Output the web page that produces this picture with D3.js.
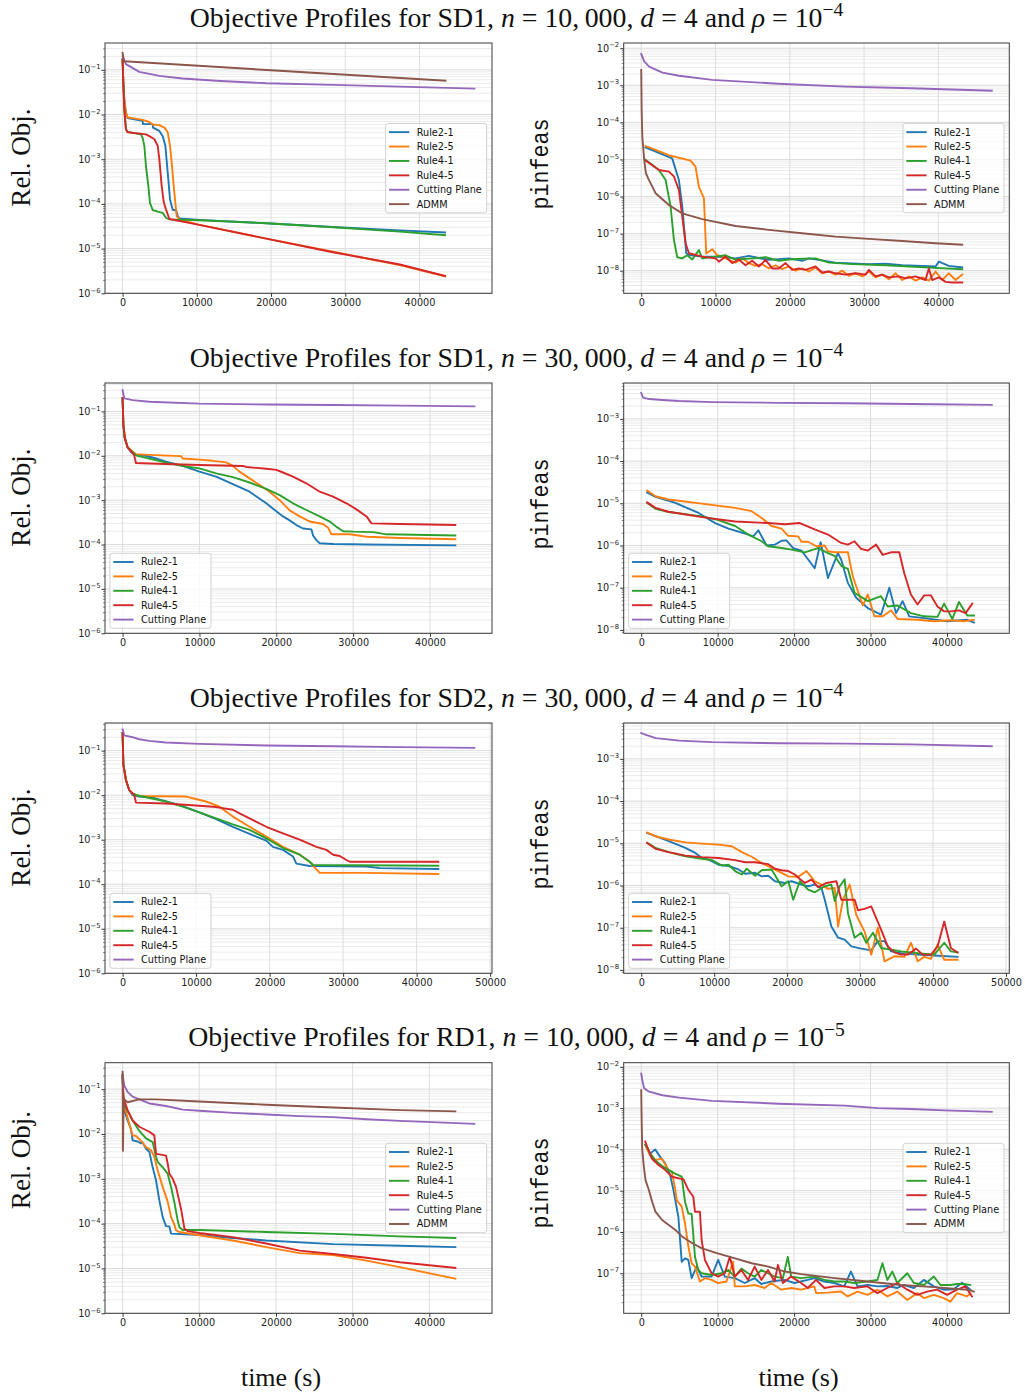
<!DOCTYPE html>
<html><head><meta charset="utf-8">
<script src="https://cdn.jsdelivr.net/npm/d3@7"></script>
<style>body{margin:0;background:#fff}</style>
</head><body>
<svg id="chart" width="1025" height="1393" xmlns="http://www.w3.org/2000/svg"></svg>
<script>
// ---------- labels ----------
const seriesNames = ["Rule2-1","Rule2-5","Rule4-1","Rule4-5","Cutting Plane","ADMM"];
const seriesColors = ["#1f77b4","#ff7f0e","#2ca02c","#d62728","#9467bd","#8c564b"];
const rowDatasets = ["SD1","SD1","SD2","RD1"];
const rowN = ["10,\u2009000","30,\u2009000","30,\u2009000","10,\u2009000"];
const rowD = ["4","4","4","4"];
const rowRhoExp = ["\u22124","\u22124","\u22124","\u22125"];
const yTitles = ["Rel. Obj.","pinfeas"];
const xTitle = "time (s)";

// ---------- data: [time (s), value] ----------
// SD1, n=10,000 : Rel. Obj.
const sd1a_obj_r21 = [[0,0.17],[100,0.05],[230,0.022],[450,0.011],[680,0.0083],[2700,0.0072],[2750,0.0061],[4050,0.0061],[4100,0.0051],[4950,0.0043],[5400,0.0033],[5760,0.002],[6080,5e-4],[6390,1.26e-4],[6750,7.4e-5],[7200,7.2e-5],[7430,5.4e-5],[7650,4.7e-5],[10350,4.4e-5],[19350,3.7e-5],[28350,3.05e-5],[37350,2.56e-5],[43450,2.3e-5]];
const sd1a_obj_r25 = [[0,0.17],[100,0.05],[230,0.022],[450,0.011],[680,0.0086],[1350,0.0083],[2700,0.0076],[3600,0.0068],[4050,0.006],[4950,0.0058],[5630,0.0051],[6080,0.004],[6390,0.002],[6660,7e-4],[6890,2.5e-4],[7110,1.05e-4],[7290,5.3e-5],[7650,4.5e-5],[10350,3.4e-5],[19350,1.67e-5],[28350,8.5e-6],[37350,4.3e-6],[43450,2.4e-6]];
const sd1a_obj_r41 = [[0,0.17],[100,0.05],[230,0.013],[450,0.0047],[675,0.0041],[2480,0.0036],[2700,0.003],[2930,0.002],[3150,7e-4],[3470,2.5e-4],[3690,1.05e-4],[4050,7.3e-5],[4730,6.7e-5],[5400,6.3e-5],[5850,4.9e-5],[6300,4.5e-5],[10350,4.3e-5],[19350,3.7e-5],[28350,3.0e-5],[37350,2.4e-5],[43450,2.0e-5]];
const sd1a_obj_r45 = [[0,0.17],[100,0.05],[230,0.013],[450,0.0047],[675,0.004],[3150,0.0036],[3600,0.0033],[4280,0.0028],[4730,0.002],[4950,0.001],[5270,2.5e-4],[5540,1.1e-4],[5850,7.5e-5],[6300,4.6e-5],[10350,3.4e-5],[19350,1.67e-5],[28350,8.3e-6],[37350,4.4e-6],[43450,2.44e-6]];
const sd1a_obj_cp = [[0,0.2],[450,0.134],[2250,0.09],[4950,0.073],[8100,0.064],[12600,0.057],[19350,0.05],[28350,0.046],[37350,0.042],[47400,0.038]];
const sd1a_obj_admm = [[0,0.24],[200,0.155],[20000,0.098],[43500,0.057]];

// SD1, n=10,000 : pinfeas
const sd1a_pf_r21 = [[583,2.1e-5],[4170,1.07e-5],[5070,2.8e-6],[5520,5.4e-7],[5880,8.3e-8],[6060,2.95e-8],[6420,2.65e-8],[8210,2.4e-8],[10010,2.4e-8],[12700,2.15e-8],[14490,2.5e-8],[17190,1.95e-8],[19880,2.15e-8],[21670,1.85e-8],[22570,2.15e-8],[26160,1.65e-8],[30650,1.5e-8],[32890,1.55e-8],[35130,1.4e-8],[39620,1.3e-8],[40070,1.75e-8],[41410,1.35e-8],[43210,1.23e-8]];
const sd1a_pf_r25 = [[583,2.3e-5],[1930,1.8e-5],[3720,1.3e-5],[6640,9.3e-6],[7310,6.4e-6],[7760,1.85e-6],[8440,8.9e-7],[8750,2.9e-8],[9560,3.8e-8],[10230,2.6e-8],[10900,2.4e-8],[11800,1.95e-8],[12700,1.65e-8],[13600,2.15e-8],[14490,1.6e-8],[15390,1.35e-8],[16290,1.5e-8],[17190,1.15e-8],[18080,1.4e-8],[18980,1.1e-8],[19880,1.3e-8],[20770,1e-8],[21670,1.15e-8],[22570,9.5e-9],[23470,1.2e-8],[24360,8.5e-9],[25260,9.5e-9],[26160,7.8e-9],[27060,1e-8],[27950,7.3e-9],[28850,8.5e-9],[29750,7e-9],[30650,9.5e-9],[31540,6.6e-9],[32440,7.8e-9],[33340,5.9e-9],[34240,8.5e-9],[35130,5.6e-9],[36030,7e-9],[36930,5.4e-9],[37830,6.6e-9],[38720,5.4e-9],[39620,9.5e-9],[40520,5.6e-9],[41410,8.5e-9],[42310,5.6e-9],[43210,7.8e-9]];
const sd1a_pf_r41 = [[583,9.8e-6],[2380,5.2e-6],[3280,2.8e-6],[3950,5.4e-7],[4400,6.8e-8],[4850,2.3e-8],[5520,2.15e-8],[6190,2.6e-8],[6870,2e-8],[7760,3.6e-8],[8210,2.15e-8],[10010,2.4e-8],[11350,2.6e-8],[12700,2e-8],[14940,2.15e-8],[16740,2.3e-8],[18530,1.85e-8],[19880,2e-8],[21670,2.1e-8],[23470,2.15e-8],[25260,1.65e-8],[28400,1.5e-8],[32890,1.4e-8],[37380,1.25e-8],[43210,1.1e-8]];
const sd1a_pf_r45 = [[583,9.3e-6],[2380,5.2e-6],[3720,4.7e-6],[4400,3.5e-6],[5070,1.5e-6],[5520,2.9e-7],[5970,5.5e-8],[6420,2.95e-8],[8210,2.4e-8],[10010,2.15e-8],[10450,1.75e-8],[11350,2.4e-8],[12250,1.6e-8],[13150,2e-8],[14040,1.4e-8],[14940,1.85e-8],[15840,1.3e-8],[16740,1.95e-8],[17630,1.15e-8],[18530,1.15e-8],[19430,1.6e-8],[20330,1.05e-8],[21220,1.15e-8],[22120,1.05e-8],[23470,1.3e-8],[24360,8.9e-9],[25260,9.5e-9],[26160,8.5e-9],[27510,7.8e-9],[28850,8.5e-9],[30200,7.8e-9],[30650,1.05e-8],[31540,7e-9],[32440,7.8e-9],[33340,6.6e-9],[34680,7e-9],[35580,6.2e-9],[36930,7e-9],[38270,5.6e-9],[38720,1.15e-8],[39170,5.6e-9],[40070,6.6e-9],[40970,5e-9],[41860,4.8e-9],[43210,4.8e-9]];
const sd1a_pf_cp = [[0,7e-3],[400,4.4e-3],[1070,3.2e-3],[2860,2.2e-3],[5090,1.8e-3],[9550,1.4e-3],[18480,1.1e-3],[27410,9.2e-4],[36340,8.3e-4],[47190,7.1e-4]];
const sd1a_pf_admm = [[0,2.6e-3],[60,2e-4],[150,4e-5],[400,9.8e-6],[625,4.3e-6],[1030,2.8e-6],[1930,1.23e-6],[3720,5.9e-7],[5520,3.5e-7],[8210,2.45e-7],[12700,1.6e-7],[17190,1.26e-7],[21670,1.02e-7],[26160,8.3e-8],[30650,7.2e-8],[35130,6.3e-8],[39620,5.5e-8],[43210,5e-8]];

// SD1, n=30,000 : Rel. Obj.
const sd1b_obj_r21 = [[0,0.2],[100,0.05],[220,0.027],[650,0.0155],[1090,0.012],[1740,0.0104],[3040,0.01],[4350,0.0087],[5650,0.0074],[7830,0.0059],[10000,0.0044],[12170,0.0034],[14350,0.0023],[16520,0.00155],[18700,8.5e-4],[20000,5.6e-4],[20870,4.3e-4],[21740,3.5e-4],[22610,2.75e-4],[23480,2.3e-4],[24570,2.2e-4],[24780,1.6e-4],[25220,1.26e-4],[25650,1.07e-4],[27390,1.03e-4],[31740,1e-4],[43300,9.6e-5]];
const sd1b_obj_r25 = [[0,0.2],[100,0.05],[300,0.025],[650,0.0155],[1740,0.0108],[3480,0.0105],[7610,0.0098],[7830,0.0087],[10000,0.0082],[11740,0.0077],[13480,0.0071],[14350,0.0059],[15220,0.0044],[16520,0.0031],[17830,0.0022],[19130,0.00155],[20440,0.001],[21740,5.9e-4],[23050,4.3e-4],[24350,3.3e-4],[26090,2.9e-4],[26740,2.4e-4],[27170,1.7e-4],[29570,1.7e-4],[31740,1.5e-4],[36090,1.4e-4],[43300,1.32e-4]];
const sd1b_obj_r41 = [[0,0.2],[100,0.05],[300,0.025],[650,0.0155],[1300,0.012],[1830,0.0101],[5650,0.007],[7830,0.0059],[10000,0.0052],[12170,0.004],[14350,0.0033],[16520,0.0025],[18700,0.0018],[20440,0.0013],[22170,8.5e-4],[23910,6e-4],[25650,4.3e-4],[26960,3.3e-4],[27830,2.5e-4],[28700,2e-4],[30000,1.95e-4],[32610,1.9e-4],[34350,1.7e-4],[43300,1.6e-4]];
const sd1b_obj_r45 = [[0,0.2],[100,0.05],[300,0.025],[650,0.0155],[1300,0.0115],[1520,0.0101],[1740,0.0069],[3480,0.0067],[10000,0.0062],[15650,0.0059],[16090,0.0056],[18700,0.0051],[20000,0.0048],[20870,0.0042],[22170,0.0034],[23910,0.0024],[25650,0.00155],[27390,0.0012],[29130,8.5e-4],[30430,6.2e-4],[31740,4.3e-4],[32390,3e-4],[36090,2.9e-4],[43300,2.75e-4]];
const sd1b_obj_cp = [[0,0.3],[217,0.196],[1300,0.18],[3480,0.165],[10000,0.15],[18700,0.143],[27390,0.139],[36090,0.135],[45780,0.13]];

// SD1, n=30,000 : pinfeas
const sd1b_pf_r21 = [[777,1.8e-5],[1862,1.42e-5],[4466,1.02e-5],[7504,5.9e-6],[9674,3.4e-6],[11410,2.5e-6],[14014,1.82e-6],[14665,1.65e-6],[15316,2.3e-6],[16401,1e-6],[17486,1.05e-6],[18354,1.3e-6],[19005,1.32e-6],[19873,8.7e-7],[20958,7.6e-7],[22694,2.9e-7],[23475,1.2e-6],[24430,1.7e-7],[25732,6.6e-7],[26166,4.6e-7],[27034,1.3e-7],[28119,5.8e-8],[29638,3.3e-8],[31374,2.3e-8],[32459,1e-7],[33327,2.5e-8],[34195,4.8e-8],[35063,2.1e-8],[37016,1.9e-8],[40054,1.6e-8],[42658,1.74e-8],[43526,1.5e-8]];
const sd1b_pf_r25 = [[777,2e-5],[1862,1.47e-5],[3598,1.23e-5],[7938,9.8e-6],[12278,7.8e-6],[14448,6.5e-6],[15750,4.5e-6],[17052,2.9e-6],[18354,2.5e-6],[19222,1.7e-6],[20524,1.65e-6],[20958,1.23e-6],[21826,1.23e-6],[22911,9.6e-7],[23996,1e-6],[24430,7.3e-7],[25298,6.9e-7],[27034,6.9e-7],[27685,1.85e-7],[28987,3.8e-8],[29638,6.9e-8],[30506,2.1e-8],[31591,2.1e-8],[32676,2.9e-8],[33544,1.82e-8],[36148,1.74e-8],[38318,1.6e-8],[40488,1.7e-8],[42224,1.6e-8],[43526,1.74e-8]];
const sd1b_pf_r41 = [[777,1.02e-5],[1862,7.4e-6],[3598,6.2e-6],[7938,4.9e-6],[10108,4e-6],[12278,2.9e-6],[14014,1.82e-6],[15750,1.26e-6],[16618,9.6e-7],[18354,8.7e-7],[19656,8e-7],[21392,6.9e-7],[23128,8.7e-7],[24430,6.6e-7],[25298,5.7e-7],[26166,3.3e-7],[27034,2.8e-7],[27902,7.6e-8],[29638,4.8e-8],[31374,6.3e-8],[32242,3.6e-8],[33544,3.8e-8],[35280,2.5e-8],[37016,2.1e-8],[38752,2.04e-8],[39620,4.2e-8],[40705,1.82e-8],[41573,4.6e-8],[42658,2.2e-8],[43526,2.2e-8]];
const sd1b_pf_r45 = [[777,1.05e-5],[1862,7.8e-6],[3598,6.3e-6],[7938,4.7e-6],[12278,3.7e-6],[16618,3.4e-6],[18788,3.2e-6],[20741,3.4e-6],[22694,2.4e-6],[24430,1.82e-6],[26166,1.15e-6],[27034,1.05e-6],[27902,1.26e-6],[28770,8.3e-7],[29638,7.6e-7],[30723,1.05e-6],[31591,6e-7],[32676,6.9e-7],[33761,6.9e-7],[34412,2.2e-7],[35280,6.9e-8],[36148,4e-8],[37016,6.6e-8],[37884,6.6e-8],[38752,3.6e-8],[39620,2.75e-8],[40488,2.75e-8],[41573,2.9e-8],[42441,2.5e-8],[43309,4.2e-8]];
const sd1b_pf_cp = [[0,4.1e-3],[260,3.2e-3],[1040,2.95e-3],[2780,2.8e-3],[4950,2.65e-3],[9280,2.5e-3],[17960,2.4e-3],[26640,2.35e-3],[35310,2.25e-3],[45860,2.15e-3]];

// SD2, n=30,000 : Rel. Obj.
const sd2_obj_r21 = [[0,0.25],[100,0.05],[450,0.022],[900,0.013],[1360,0.0101],[2270,0.0093],[4090,0.0088],[5910,0.0072],[8180,0.0057],[10450,0.0041],[12730,0.0029],[15000,0.00195],[17270,0.00135],[19550,9.5e-4],[20450,6.9e-4],[21820,5.9e-4],[23180,4.2e-4],[23640,2.9e-4],[25450,2.57e-4],[33180,2.5e-4],[35000,2.3e-4],[42950,2.2e-4]];
const sd2_obj_r25 = [[0,0.25],[100,0.05],[450,0.022],[900,0.013],[1360,0.0107],[2270,0.0096],[8640,0.0093],[9550,0.0085],[11360,0.0072],[13180,0.0055],[15000,0.0033],[17270,0.00195],[19550,0.00117],[21820,6.9e-4],[24090,4.6e-4],[25450,3.2e-4],[26140,2.35e-4],[26820,1.8e-4],[33180,1.8e-4],[42950,1.7e-4]];
const sd2_obj_r41 = [[0,0.25],[100,0.05],[450,0.022],[900,0.013],[1360,0.011],[1820,0.0101],[2730,0.0093],[5910,0.0072],[8180,0.0055],[10450,0.0041],[12730,0.003],[15000,0.0022],[17270,0.00166],[19550,0.00107],[21820,6.5e-4],[24090,4.6e-4],[25450,3.2e-4],[25910,2.7e-4],[42950,2.6e-4]];
const sd2_obj_r45 = [[0,0.25],[100,0.05],[450,0.022],[900,0.013],[1590,0.0101],[1820,0.0068],[5910,0.0065],[10450,0.0058],[12730,0.0054],[15000,0.0047],[15910,0.0039],[17270,0.003],[19550,0.00195],[21820,0.00139],[24090,0.001],[26360,6.9e-4],[27730,5.9e-4],[28640,4.6e-4],[29550,4.3e-4],[30450,3.5e-4],[30910,3.2e-4],[42950,3.2e-4]];
const sd2_obj_cp = [[0,0.3],[230,0.22],[1360,0.2],[2270,0.18],[3640,0.165],[5910,0.152],[10450,0.142],[19550,0.13],[28640,0.125],[37730,0.12],[47860,0.115]];

// SD2, n=30,000 : pinfeas
const sd2_pf_r21 = [[814,1.75e-5],[1952,1.47e-5],[3772,1.12e-5],[6047,7.8e-6],[7412,5.9e-6],[8322,4.5e-6],[9232,4.1e-6],[10597,3.1e-6],[11962,2.9e-6],[13327,2.4e-6],[14237,1.9e-6],[15602,2e-6],[16512,1.65e-6],[17422,1.7e-6],[18332,1.26e-6],[19697,1.15e-6],[20607,1.26e-6],[21972,1.05e-6],[22882,9.6e-7],[23792,1.05e-6],[24702,8.7e-7],[25157,4.6e-7],[26067,1.07e-7],[26977,5.8e-8],[27887,5.2e-8],[28797,3.6e-8],[30162,3.2e-8],[31527,2.9e-8],[32437,4.8e-8],[33347,4.8e-8],[34257,2.75e-8],[35622,2.5e-8],[37897,2.3e-8],[40172,2.2e-8],[43357,2.04e-8]];
const sd2_pf_r25 = [[814,1.8e-5],[1952,1.47e-5],[3772,1.23e-5],[6047,1.05e-5],[8322,9.8e-6],[10597,9.3e-6],[12417,8.5e-6],[13782,6.2e-6],[15147,4.8e-6],[16512,3.4e-6],[17877,2.6e-6],[19242,2e-6],[20152,1.65e-6],[21517,1.6e-6],[22655,2.2e-6],[23792,1.26e-6],[24702,1.05e-6],[25612,8.3e-7],[26522,8.7e-7],[26977,1.07e-7],[27660,4.6e-7],[28570,1.05e-6],[29480,2e-7],[30617,8.1e-8],[31527,2.3e-8],[32437,1e-7],[33347,1.6e-8],[34712,2.1e-8],[36077,2.04e-8],[36987,4.4e-8],[37897,1.6e-8],[38807,2.04e-8],[39717,1.82e-8],[40627,4e-8],[41537,1.74e-8],[43357,1.74e-8]];
const sd2_pf_r41 = [[814,1.02e-5],[1952,7.8e-6],[3772,6.2e-6],[6047,4.9e-6],[8322,4.3e-6],[9687,4e-6],[11052,2.95e-6],[11962,3.1e-6],[12872,2.2e-6],[13782,1.82e-6],[14465,2.5e-6],[15602,1.7e-6],[16512,2.3e-6],[17877,2.4e-6],[19242,9.6e-7],[20152,1.26e-6],[20835,4.6e-7],[21745,1.26e-6],[22882,8e-7],[23792,6.9e-7],[25157,9.6e-7],[26067,1.05e-6],[26522,4.3e-7],[27205,9.6e-7],[27887,1.4e-6],[28342,2.2e-7],[29252,5.8e-8],[30162,7.6e-8],[30845,4.4e-8],[31755,7.6e-8],[32892,3.3e-8],[35622,2.75e-8],[37897,2.5e-8],[40172,2.3e-8],[41537,4.4e-8],[42447,2.75e-8],[43357,2.6e-8]];
const sd2_pf_r45 = [[814,1.02e-5],[1952,7.4e-6],[3772,6.2e-6],[6047,5.1e-6],[8322,4.7e-6],[10597,4.5e-6],[12872,4e-6],[14237,3.55e-6],[15602,3.55e-6],[17422,3.2e-6],[18332,2.5e-6],[19242,2.3e-6],[20152,2.2e-6],[21062,1.82e-6],[21745,1.43e-6],[22427,1.15e-6],[23337,1.38e-6],[24247,9.1e-7],[25385,1.15e-6],[26750,1.26e-6],[27432,4.6e-7],[29252,4.6e-7],[29707,2.6e-7],[30617,2.8e-7],[31527,3.2e-7],[32892,8.9e-8],[33802,3.6e-8],[34712,2.6e-8],[35622,2.3e-8],[36532,2.3e-8],[37670,3.2e-8],[38580,2.3e-8],[39717,2.3e-8],[40627,3.6e-8],[41537,1.4e-7],[42447,3.3e-8],[43357,2.6e-8]];
const sd2_pf_cp = [[0,4.1e-3],[640,3.7e-3],[2000,3.1e-3],[5180,2.7e-3],[9730,2.5e-3],[18820,2.35e-3],[27910,2.3e-3],[37000,2.2e-3],[48050,2e-3]];

// RD1, n=10,000 : Rel. Obj.
const rd1_obj_r21 = [[0,0.2],[100,0.06],[220,0.034],[650,0.02],[1090,0.013],[1310,0.0072],[1960,0.0068],[2400,0.0062],[2610,0.0065],[3050,0.0047],[3490,0.004],[3920,0.0018],[4360,9.3e-4],[4790,3.3e-4],[5230,1.4e-4],[5660,8.8e-5],[6100,8.7e-5],[6320,6e-5],[10020,5.6e-5],[14380,4.8e-5],[18740,4.2e-5],[27450,3.5e-5],[36170,3.2e-5],[43400,3e-5]];
const rd1_obj_r25 = [[0,0.2],[100,0.06],[220,0.044],[870,0.017],[1310,0.0093],[1740,0.009],[2180,0.0077],[2610,0.0064],[3050,0.0051],[3700,0.0044],[4140,0.0031],[4570,0.00155],[5230,6.6e-4],[5880,3.1e-4],[6320,1.4e-4],[6750,9.5e-5],[6970,7.1e-5],[7410,6.5e-5],[10020,5.5e-5],[14380,4.2e-5],[18740,3e-5],[23090,2.2e-5],[27450,2e-5],[31810,1.5e-5],[36170,1.07e-5],[43400,5.9e-6]];
const rd1_obj_r41 = [[0,0.2],[100,0.06],[220,0.045],[1310,0.02],[2180,0.0117],[3050,0.008],[3920,0.0066],[4360,0.0031],[4570,0.0024],[5230,0.0018],[5880,0.0013],[6320,6.6e-4],[6750,3e-4],[7190,1.17e-4],[7410,8.3e-5],[7840,7.2e-5],[10020,7.2e-5],[18740,6.5e-5],[27450,5.9e-5],[36170,5.2e-5],[43400,4.8e-5]];
const rd1_obj_r45 = [[0,0.2],[100,0.07],[220,0.056],[650,0.034],[1310,0.02],[2180,0.0145],[3490,0.0112],[4140,0.0093],[4360,0.0036],[4790,0.0035],[5660,0.0033],[5880,0.0022],[6100,0.0013],[6540,0.001],[6970,6.6e-4],[7630,2.1e-4],[8060,7.8e-5],[8500,6.8e-5],[10020,6.2e-5],[14380,5e-5],[18740,3.6e-5],[23090,2.5e-5],[27450,2.1e-5],[31810,1.74e-5],[36170,1.38e-5],[43400,1.03e-5]];
const rd1_obj_cp = [[0,0.22],[220,0.12],[650,0.087],[1310,0.068],[3490,0.048],[5660,0.042],[7840,0.035],[10020,0.033],[14380,0.0295],[18740,0.0272],[23090,0.025],[27450,0.0238],[31810,0.0213],[36170,0.0196],[45880,0.0168]];
const rd1_obj_admm = [[0,0.245],[40,0.0042],[150,0.06],[650,0.051],[2180,0.059],[4360,0.059],[10020,0.053],[18740,0.045],[27450,0.039],[36170,0.034],[43400,0.032]];

// RD1, n=10,000 : pinfeas
const rd1_pf_r21 = [[738,1.15e-4],[1172,7.9e-5],[1823,1e-4],[2474,6.6e-5],[3125,4.6e-5],[3776,2.4e-5],[4210,1.05e-5],[4861,2.3e-6],[5295,1.9e-7],[5729,2.3e-7],[6163,2.1e-7],[6597,7.6e-8],[7248,1.45e-7],[7899,8.3e-8],[9201,8.3e-8],[10069,2.1e-7],[10937,8.3e-8],[12239,7.6e-8],[13541,5.8e-8],[14843,7.6e-8],[15711,5.5e-8],[17013,6.3e-8],[18749,6.9e-8],[20051,5.8e-8],[21787,6.9e-8],[22655,7.6e-8],[23957,6.3e-8],[25259,5.8e-8],[26561,4.8e-8],[27429,1.1e-7],[28297,4.8e-8],[29599,5.2e-8],[30901,4.8e-8],[32203,4.9e-8],[33505,4.4e-8],[34373,5.2e-8],[35675,4.4e-8],[36977,6.9e-8],[38279,4.8e-8],[39581,4e-8],[40883,4.1e-8],[41968,5.9e-8],[43053,4e-8]];
const rd1_pf_r25 = [[521,1.26e-4],[1172,7.2e-5],[1823,5.5e-5],[2691,6e-5],[3559,3.2e-5],[3993,2.9e-5],[4427,1.15e-5],[4644,5.9e-6],[5295,4.1e-6],[5729,1.6e-6],[6163,4.5e-7],[6597,1.75e-7],[7031,1.45e-7],[7682,6.3e-8],[8333,7.6e-8],[9201,6.9e-8],[10069,5.8e-8],[11154,6.3e-8],[12022,1.9e-7],[12239,4.8e-8],[13541,4.8e-8],[14843,5.2e-8],[16145,4.4e-8],[17013,5.8e-8],[18315,4e-8],[19617,4.4e-8],[20919,4e-8],[22655,4.8e-8],[22872,3.3e-8],[24391,3.4e-8],[26127,3.6e-8],[26995,2.75e-8],[28297,3.6e-8],[29599,3e-8],[30901,4e-8],[32203,2.75e-8],[33505,3.6e-8],[34807,2.25e-8],[36109,3.3e-8],[36977,2.5e-8],[38279,3e-8],[39581,2.5e-8],[40449,2.05e-8],[41317,3.3e-8],[42619,2.75e-8],[43053,3.3e-8]];
const rd1_pf_r41 = [[521,1.3e-4],[1172,8e-5],[1823,5.5e-5],[2691,4e-5],[3559,3.2e-5],[4427,2.6e-5],[5295,2.2e-5],[5729,5.4e-6],[6163,2.8e-6],[6597,2.75e-6],[7031,2.5e-7],[7465,1.2e-7],[7899,1e-7],[9201,9.1e-8],[10503,1e-7],[11371,1.2e-7],[12239,8.3e-8],[13107,1.3e-7],[13975,1e-7],[14843,8.3e-8],[15711,1.2e-7],[16579,1e-7],[17447,8.3e-8],[18532,7.6e-8],[19183,2.5e-7],[19617,8.3e-8],[20919,7.6e-8],[22655,8.3e-8],[23957,6.9e-8],[25259,6.3e-8],[26561,6.3e-8],[27863,5.8e-8],[29599,6.3e-8],[30901,6.9e-8],[31552,1.75e-7],[32203,6.9e-8],[32854,1.1e-7],[33505,5.8e-8],[34807,1e-7],[35675,5.8e-8],[36977,5.2e-8],[38279,8.3e-8],[39147,5.2e-8],[40449,5.2e-8],[41317,5.5e-8],[42185,5.5e-8],[43053,5.2e-8]];
const rd1_pf_r45 = [[521,1.55e-4],[955,9.6e-5],[1389,6e-5],[2257,4.2e-5],[3125,3.2e-5],[3993,2.2e-5],[4861,2e-5],[5512,1.9e-5],[6163,1.05e-5],[6814,7.1e-6],[7031,3.1e-6],[7682,3.1e-6],[7899,6.4e-7],[8333,2.1e-7],[9201,1e-7],[10069,8.3e-8],[10937,1e-7],[11588,2.5e-7],[12239,8.3e-8],[13107,1.2e-7],[13975,6.9e-8],[14843,1.45e-7],[15711,6.9e-8],[16579,1.2e-7],[17447,6.3e-8],[17881,1.6e-7],[18532,5.8e-8],[19617,8.3e-8],[20919,5.8e-8],[21787,4.4e-8],[22872,6.9e-8],[23957,4.4e-8],[25259,4.8e-8],[26561,4.8e-8],[27863,4.4e-8],[29599,4.8e-8],[30901,3.3e-8],[32203,4.4e-8],[33505,5.8e-8],[34807,4e-8],[36109,3e-8],[37411,3.6e-8],[38713,4e-8],[40015,3e-8],[41317,4e-8],[42402,4.8e-8],[43270,2.75e-8]];
const rd1_pf_cp = [[0,6.9e-3],[170,4.4e-3],[390,3e-3],[1040,2.5e-3],[2780,2.05e-3],[4950,1.8e-3],[9280,1.5e-3],[17960,1.28e-3],[26640,1.15e-3],[30980,1e-3],[35310,9.5e-4],[39650,8.8e-4],[45860,8.1e-4]];
const rd1_pf_admm = [[0,2.7e-3],[50,6e-4],[130,1e-4],[340,3.8e-5],[560,1.8e-5],[990,1.05e-5],[1430,5.4e-6],[1860,3.1e-6],[2730,1.95e-6],[3600,1.48e-6],[4470,1.12e-6],[5330,7.8e-7],[6640,5.4e-7],[7940,4e-7],[10110,3e-7],[12280,2.3e-7],[14450,1.75e-7],[16620,1.45e-7],[18790,1.1e-7],[20960,9.5e-8],[25300,7.6e-8],[29630,6.3e-8],[33980,5.2e-8],[38320,4.6e-8],[42660,4e-8],[43520,3.6e-8]];

// ---------- panel definitions ----------
const panels = [
  {row:0,col:0,ylim:[-6,-0.4],   legend:"cr", series:[sd1a_obj_r21,sd1a_obj_r25,sd1a_obj_r41,sd1a_obj_r45,sd1a_obj_cp,sd1a_obj_admm]},
  {row:0,col:1,ylim:[-8.61,-1.86],legend:"cr", series:[sd1a_pf_r21,sd1a_pf_r25,sd1a_pf_r41,sd1a_pf_r45,sd1a_pf_cp,sd1a_pf_admm]},
  {row:1,col:0,ylim:[-6,-0.36],  legend:"ll", series:[sd1b_obj_r21,sd1b_obj_r25,sd1b_obj_r41,sd1b_obj_r45,sd1b_obj_cp]},
  {row:1,col:1,ylim:[-8.08,-2.15],legend:"ll", series:[sd1b_pf_r21,sd1b_pf_r25,sd1b_pf_r41,sd1b_pf_r45,sd1b_pf_cp]},
  {row:2,col:0,ylim:[-6,-0.38],  legend:"ll", series:[sd2_obj_r21,sd2_obj_r25,sd2_obj_r41,sd2_obj_r45,sd2_obj_cp]},
  {row:2,col:1,ylim:[-8.08,-2.15],legend:"ll", series:[sd2_pf_r21,sd2_pf_r25,sd2_pf_r41,sd2_pf_r45,sd2_pf_cp]},
  {row:3,col:0,ylim:[-6,-0.41],  legend:"cr", series:[rd1_obj_r21,rd1_obj_r25,rd1_obj_r41,rd1_obj_r45,rd1_obj_cp,rd1_obj_admm]},
  {row:3,col:1,ylim:[-7.97,-1.9], legend:"cr", series:[rd1_pf_r21,rd1_pf_r25,rd1_pf_r41,rd1_pf_r45,rd1_pf_cp,rd1_pf_admm]}
];

// ---------- layout ----------
const colX = [[105,492],[623.7,1009.3]];
const rowY = [[43,293.3],[383,633.3],[723,973.3],[1062.7,1313.3]];
const titleY = [26.7,366.7,706.7,1046];
const relObjY = [157.5,497.5,837.5,1160];
const pinfY = [164,504,844,1183];
const tickFont = "'DejaVu Sans', sans-serif";
const serif = "'Liberation Serif','Times New Roman',serif";
const FS = 9.7;

const svg = d3.select("#chart");
svg.append("rect").attr("width",1025).attr("height",1393).attr("fill","#fff");
const defs = svg.append("defs");

panels.forEach((p,i)=>{
  const [x0,x1] = colX[p.col], [y0,y1] = rowY[p.row];
  const tmax = d3.max(p.series, s=>d3.max(s,d=>d[0]));
  const x = d3.scaleLinear().domain([-0.05*tmax, 1.05*tmax]).range([x0,x1]);
  const y = d3.scaleLog().domain([Math.pow(10,p.ylim[0]), Math.pow(10,p.ylim[1])]).range([y1,y0]);
  const g = svg.append("g");

  defs.append("clipPath").attr("id","clip"+i).append("rect")
    .attr("x",x0).attr("y",y0).attr("width",x1-x0).attr("height",y1-y0);

  // tick values
  const majors=[], minors=[];
  for(let e=Math.floor(p.ylim[0]); e<=Math.ceil(p.ylim[1]); e++){
    if(e>=p.ylim[0]-1e-9 && e<=p.ylim[1]+1e-9) majors.push({e:e,v:Math.pow(10,e)});
    for(let m=2;m<=9;m++){
      const lm = e+Math.log10(m);
      if(lm>=p.ylim[0] && lm<=p.ylim[1]) minors.push(m*Math.pow(10,e));
    }
  }
  const xt = x.ticks(5).filter(t=>t>=x.domain()[0] && t<=x.domain()[1]);

  // grid
  const grid = g.append("g");
  grid.selectAll(".gmin").data(minors).join("line")
    .attr("x1",x0).attr("x2",x1).attr("y1",d=>y(d)).attr("y2",d=>y(d))
    .attr("stroke","#e6e6e6").attr("stroke-width",0.8);
  grid.selectAll(".gmaj").data(majors).join("line")
    .attr("x1",x0).attr("x2",x1).attr("y1",d=>y(d.v)).attr("y2",d=>y(d.v))
    .attr("stroke","#d6d6d6").attr("stroke-width",0.9);
  grid.selectAll(".gx").data(xt).join("line")
    .attr("x1",d=>x(d)).attr("x2",d=>x(d)).attr("y1",y0).attr("y2",y1)
    .attr("stroke","#dadada").attr("stroke-width",0.9);

  // lines
  const line = d3.line().x(d=>x(d[0])).y(d=>y(d[1]));
  const lg = g.append("g").attr("clip-path",`url(#clip${i})`);
  p.series.forEach((s,k)=>{
    lg.append("path").attr("d",line(s)).attr("fill","none")
      .attr("stroke",seriesColors[k]).attr("stroke-width",1.9)
      .attr("stroke-linejoin","round").attr("stroke-linecap","square");
  });

  // frame
  g.append("rect").attr("x",x0).attr("y",y0).attr("width",x1-x0).attr("height",y1-y0)
    .attr("fill","none").attr("stroke","#3a3a3a").attr("stroke-width",1);

  // axes (ticks)
  const ax = g.append("g").attr("transform",`translate(0,${y1})`)
    .call(d3.axisBottom(x).tickValues(xt).tickSize(3.5).tickPadding(2.5).tickFormat(d3.format("d")));
  ax.select(".domain").remove();
  ax.selectAll("line").attr("stroke","#333");
  ax.selectAll("text").attr("font-family",tickFont).attr("font-size",FS).attr("fill","#222");

  const ayMaj = g.append("g").attr("transform",`translate(${x0},0)`)
    .call(d3.axisLeft(y).tickValues(majors.map(d=>d.v)).tickSize(3.5).tickFormat(""));
  ayMaj.select(".domain").remove();
  ayMaj.selectAll("line").attr("stroke","#333");
  const ayMin = g.append("g").attr("transform",`translate(${x0},0)`)
    .call(d3.axisLeft(y).tickValues(minors).tickSize(2).tickFormat(""));
  ayMin.select(".domain").remove();
  ayMin.selectAll("line").attr("stroke","#333").attr("stroke-width",0.6);

  // y tick labels 10^e
  majors.forEach(d=>{
    const t = g.append("text").attr("x",x0-4.5).attr("y",y(d.v)+3.4)
      .attr("text-anchor","end").attr("font-family",tickFont).attr("font-size",FS).attr("fill","#222");
    t.append("tspan").text("10");
    t.append("tspan").attr("dy",-4.2).attr("font-size",6.8).text("\u2212"+Math.abs(d.e));
  });

  // legend
  const n = p.series.length;
  const lw = 101, lh = 17.4 + (n-1)*14.4;
  let lx, ly;
  if(p.legend==="cr"){ lx = x1-5.3-lw; ly = (y0+y1)/2 - lh/2; }
  else { lx = x0+5; ly = y1-5-lh; }
  const leg = g.append("g").attr("transform",`translate(${lx},${ly})`);
  leg.append("rect").attr("width",lw).attr("height",lh).attr("rx",2.5)
    .attr("fill","#fff").attr("fill-opacity",0.8).attr("stroke","#cccccc").attr("stroke-width",0.9);
  p.series.forEach((s,k)=>{
    const yy = 8.7 + k*14.4;
    leg.append("line").attr("x1",3.3).attr("x2",23.6).attr("y1",yy).attr("y2",yy)
      .attr("stroke",seriesColors[k]).attr("stroke-width",1.9);
    leg.append("text").attr("x",31).attr("y",yy+3.5).attr("font-family",tickFont)
      .attr("font-size",FS).attr("fill","#111").text(seriesNames[k]);
  });
});

// titles
for(let r=0;r<4;r++){
  const t = svg.append("text").attr("x",516.5).attr("y",titleY[r]).attr("text-anchor","middle")
    .attr("font-family",serif).attr("font-size",27.8).attr("fill","#111");
  t.append("tspan").text(`Objective Profiles for ${rowDatasets[r]}, `);
  t.append("tspan").attr("font-style","italic").text("n");
  t.append("tspan").text(` = ${rowN[r]}, `);
  t.append("tspan").attr("font-style","italic").text("d");
  t.append("tspan").text(` = ${rowD[r]} and `);
  t.append("tspan").attr("font-style","italic").text("\u03C1");
  t.append("tspan").text(" = 10");
  t.append("tspan").attr("dy",-10.5).attr("font-size",19.5).text(rowRhoExp[r]);

  svg.append("text").attr("transform",`translate(30,${relObjY[r]}) rotate(-90)`)
    .attr("text-anchor","middle").attr("font-family",serif).attr("font-size",27).attr("fill","#111")
    .text(yTitles[0]);
  svg.append("text").attr("transform",`translate(548,${pinfY[r]}) rotate(-90)`)
    .attr("text-anchor","middle").attr("font-family","'Liberation Mono','DejaVu Sans Mono',monospace")
    .attr("font-size",24).attr("textLength",91).attr("lengthAdjust","spacingAndGlyphs").attr("fill","#111")
    .text(yTitles[1]);
}
svg.append("text").attr("x",281).attr("y",1386).attr("text-anchor","middle")
  .attr("font-family",serif).attr("font-size",26).attr("fill","#111").text(xTitle);
svg.append("text").attr("x",798.5).attr("y",1386).attr("text-anchor","middle")
  .attr("font-family",serif).attr("font-size",26).attr("fill","#111").text(xTitle);
</script>
</body></html>
